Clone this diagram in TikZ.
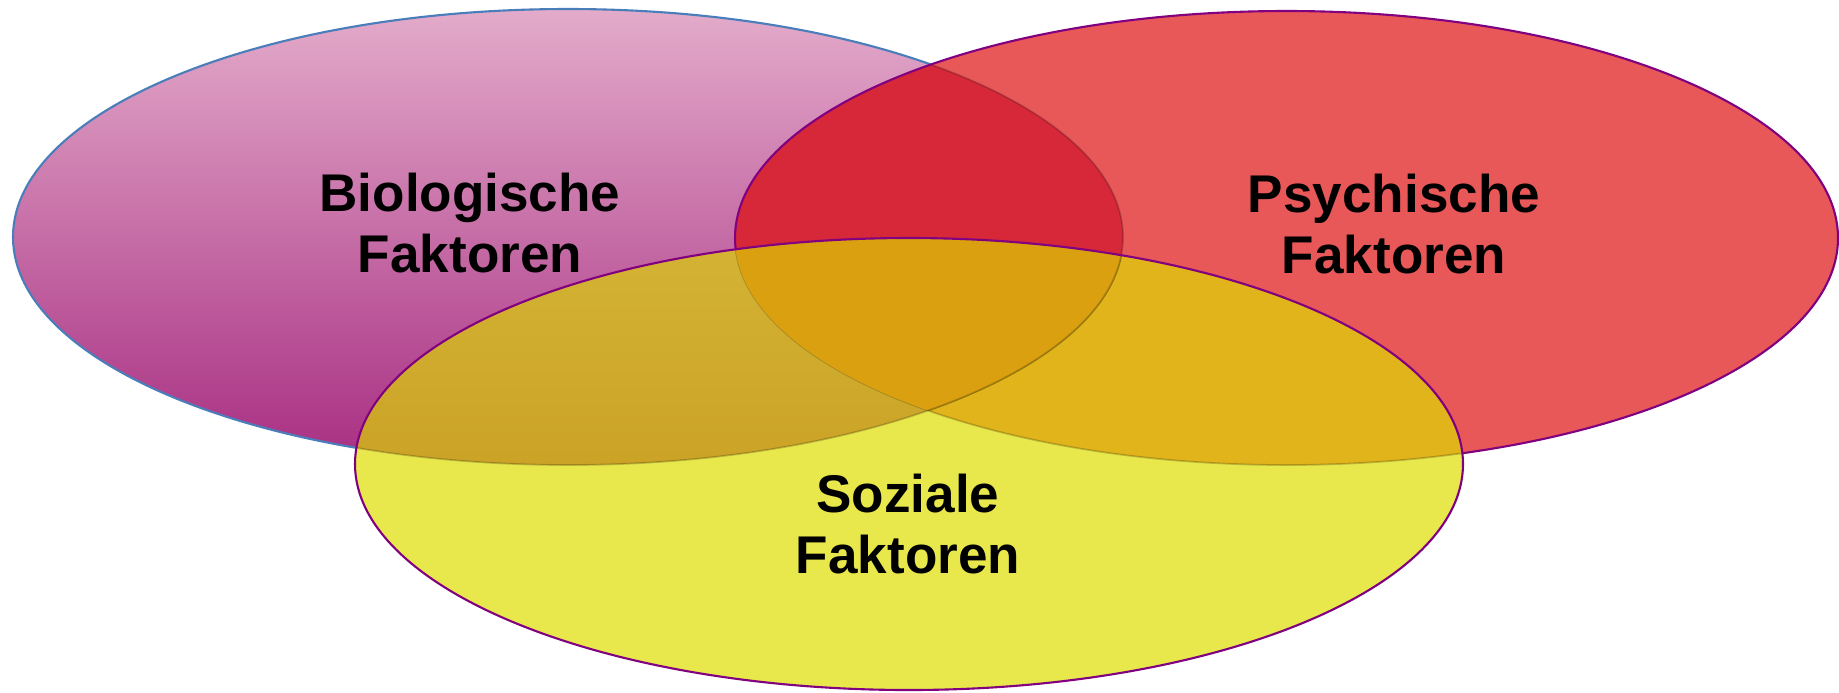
\documentclass[tikz,border=0pt]{standalone}
\usepackage{fontspec}
\setmainfont{Liberation Sans}
\definecolor{bioTop}{HTML}{E3ABCA}
\definecolor{bioBot}{HTML}{A82E82}
\definecolor{bioLine}{HTML}{4A7EBB}
\definecolor{psyRed}{HTML}{E85858}
\definecolor{bioPsy}{HTML}{D62839}
\definecolor{sozYellow}{HTML}{E8E84C}
\definecolor{bioSozTop}{HTML}{DCC444}
\definecolor{bioSozBot}{HTML}{CBA326}
\definecolor{psySoz}{HTML}{E0B41A}
\definecolor{allThree}{HTML}{DAA010}
\definecolor{rimPurple}{HTML}{800080}

\begin{document}
\begin{tikzpicture}[factor/.style={font=\bfseries\fontsize{15.1}{17.4}\selectfont, align=center, inner sep=0pt},
	rim/.style={draw=rimPurple, line width=0.6pt},
	faint/.style={draw=black, draw opacity=0.2, line width=0.5pt}]

	\useasboundingbox (0,0) rectangle (18.39,-6.92);

	\coordinate (bioC) at (5.68,-2.37);
	\coordinate (psyC) at (12.865,-2.38);
	\coordinate (sozC) at (9.09,-4.64);

	% biologische
	\path [top color=bioTop, bottom color=bioBot] (bioC) ellipse [x radius=5.55cm, y radius=2.28cm];
	\draw [draw=bioLine, line width=0.6pt] (bioC) ellipse [x radius=5.55cm, y radius=2.28cm];

	% psychische
	\fill [psyRed] (psyC) ellipse [x radius=5.515cm, y radius=2.27cm];
	\begin{scope}
		\clip (psyC) ellipse [x radius=5.515cm, y radius=2.27cm];
		\fill [bioPsy] (bioC) ellipse [x radius=5.55cm, y radius=2.28cm];
		\draw [faint] (bioC) ellipse [x radius=5.55cm, y radius=2.28cm];
	\end{scope}
	\draw [rim] (psyC) ellipse [x radius=5.515cm, y radius=2.27cm];

	% soziale
	\fill [sozYellow] (sozC) ellipse [x radius=5.54cm, y radius=2.26cm];
	\begin{scope}
		\clip (sozC) ellipse [x radius=5.54cm, y radius=2.26cm];
		\path [top color=bioSozTop, bottom color=bioSozBot] (bioC) ellipse [x radius=5.55cm, y radius=2.28cm];
		\fill [psySoz] (psyC) ellipse [x radius=5.515cm, y radius=2.27cm];
		\draw [faint] (bioC) ellipse [x radius=5.55cm, y radius=2.28cm];
		\draw [faint] (psyC) ellipse [x radius=5.515cm, y radius=2.27cm];
		\clip (psyC) ellipse [x radius=5.515cm, y radius=2.27cm];
		\fill [allThree] (bioC) ellipse [x radius=5.55cm, y radius=2.28cm];
		\draw [faint] (bioC) ellipse [x radius=5.55cm, y radius=2.28cm];
	\end{scope}
	\draw [rim] (sozC) ellipse [x radius=5.54cm, y radius=2.26cm];

	\node (bio) [factor] at (4.70,-2.23) {Biologische\\Faktoren};
	\node (psy) [factor] at (13.94,-2.24) {Psychische\\Faktoren};
	\node (soz) [factor] at (9.08,-5.24) {Soziale\\Faktoren};

\end{tikzpicture}
\end{document}
